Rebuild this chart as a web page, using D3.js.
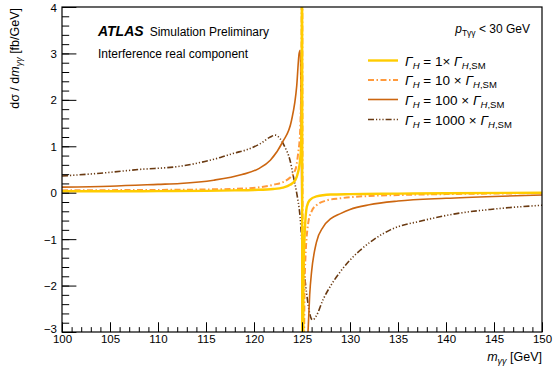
<!DOCTYPE html>
<html>
<head>
<meta charset="utf-8">
<script src="https://cdn.jsdelivr.net/npm/d3@7"></script>
<style>
  html, body { margin: 0; padding: 0; background: #fff; }
  svg { display: block; font-family: "Liberation Sans", Arial, Helvetica, sans-serif; }
</style>
</head>
<body>
<svg id="chart" width="553" height="372"></svg>
<script>
// Interference (real part) of the diphoton lineshape for several Higgs widths
const xTicks = [100, 105, 110, 115, 120, 125, 130, 135, 140, 145, 150];
const yTicks = [-3, -2, -1, 0, 1, 2, 3, 4];

// Γ_H = 1 × Γ_H,SM
const w1Mass  = [100, 105, 110, 115, 118, 120, 122, 123, 123.75, 124.3, 124.6, 124.8, 124.9, 124.97, 125.0, 125.04, 125.15, 125.3, 125.5, 125.8, 126.5, 128, 130, 135, 140, 150];
const w1Value = [0.03, 0.03, 0.035, 0.04, 0.05, 0.06, 0.08, 0.11, 0.17, 0.27, 0.45, 0.7, 1.0, 1.6, 9, -9, -1.8, -0.8, -0.3, -0.16, -0.08, -0.04, -0.03, -0.02, -0.01, 0];

// Γ_H = 10 × Γ_H,SM
const w10Mass  = [100, 105, 110, 115, 119, 122, 123.4, 124.3, 124.6, 124.8, 124.95, 125.0, 125.1, 125.3, 125.65, 126, 126.5, 127.5, 129, 132, 135, 140, 150];
const w10Value = [0.05, 0.055, 0.06, 0.07, 0.09, 0.17, 0.27, 0.49, 0.85, 1.3, 3.0, 7, -5, -1.7, -0.65, -0.4, -0.27, -0.17, -0.12, -0.07, -0.05, -0.03, -0.01];

// Γ_H = 100 × Γ_H,SM
const w100Mass  = [100, 105, 110, 112.3, 115.8, 118.75, 120.5, 121.7, 123.0, 123.9, 124.45, 124.7, 124.82, 124.9, 125.0, 125.2, 125.5, 125.65, 125.8, 126.0, 126.5, 127.2, 128, 129, 130, 132, 135, 140, 145, 150];
const w100Value = [0.12, 0.14, 0.18, 0.2, 0.27, 0.39, 0.52, 0.7, 1.1, 1.55, 2.3, 3.0, 3.07, 2.0, -1.0, -3.5, -3.4, -2.9, -2.2, -1.7, -1.07, -0.74, -0.56, -0.45, -0.36, -0.26, -0.18, -0.12, -0.08, -0.05];

// Γ_H = 1000 × Γ_H,SM
const w1000Mass  = [100, 104, 108, 112.3, 114.4, 116.5, 117.9, 119.3, 120.6, 121.7, 122.2, 122.7, 123.2, 123.75, 124.1, 124.45, 124.8, 125.1, 125.5, 125.8, 126.1, 126.5, 127.2, 128, 129, 130, 131, 132.4, 134.2, 137.6, 141.1, 144.6, 150];
const w1000Value = [0.36, 0.42, 0.5, 0.57, 0.65, 0.76, 0.85, 0.93, 1.05, 1.2, 1.24, 1.17, 0.99, 0.7, 0.35, -0.01, -0.52, -1.4, -2.2, -2.6, -2.74, -2.65, -2.3, -2.0, -1.7, -1.45, -1.25, -1.02, -0.8, -0.6, -0.45, -0.36, -0.27];

const seriesLabels = ["1\u00d7", "10 \u00d7", "100 \u00d7", "1000 \u00d7"];
const seriesColors = ["#ffcc00", "#ff9a3c", "#cc6610", "#6a3a12"];
const seriesDash   = [null, "6,2.5,1.5,2.5", null, "6,2,1.2,2,1.2,2,1.2,2"];
const seriesWidth  = [2.4, 2.0, 1.6, 1.6];

const series = [
  [w1Mass, w1Value], [w10Mass, w10Value], [w100Mass, w100Value], [w1000Mass, w1000Value]
].map(([m, v], i) => ({
  points: m.map((mm, k) => [mm, v[k]]),
  label: seriesLabels[i], color: seriesColors[i], dash: seriesDash[i], width: seriesWidth[i]
}));

const svg = d3.select("#chart");
const margin = { left: 62, right: 11, top: 7, bottom: 40 };
const W = 553, H = 372;
const x = d3.scaleLinear().domain([100, 150]).range([margin.left, W - margin.right]);
const y = d3.scaleLinear().domain([-3, 4]).range([H - margin.bottom, margin.top]);

svg.append("defs").append("clipPath").attr("id", "plot-clip")
  .append("rect")
  .attr("x", x(100)).attr("y", y(4))
  .attr("width", x(150) - x(100)).attr("height", y(-3) - y(4));

// curves
const line = d3.line().x(d => x(d[0])).y(d => y(d[1])).curve(d3.curveMonotoneX);
const curves = svg.append("g").attr("clip-path", "url(#plot-clip)");
// draw widest first so the thin ones stay visible
[3, 2, 1, 0].forEach(i => {
  const s = series[i];
  curves.append("path")
    .datum(s.points)
    .attr("d", line)
    .attr("fill", "none")
    .attr("stroke", s.color)
    .attr("stroke-width", s.width)
    .attr("stroke-dasharray", s.dash)
    .attr("stroke-linejoin", "round");
});

// axes: major and minor ticks pointing into the frame
const xMajor = 9.75, yMajor = 14.4;
const xAxis = d3.axisBottom(x).tickValues(xTicks).tickSize(-xMajor).tickPadding(3).tickFormat(d3.format("d"));
const xMinor = d3.axisBottom(x).tickValues(d3.range(100, 151, 1)).tickSize(-xMajor / 2).tickFormat("");
const yAxis = d3.axisLeft(y).tickValues(yTicks).tickSize(-yMajor).tickPadding(5).tickFormat(d3.format("d"));
const yMinor = d3.axisLeft(y).tickValues(d3.range(-3, 4.001, 0.2)).tickSize(-yMajor / 2).tickFormat("");

function styleAxis(g) {
  g.select(".domain").remove();
  g.selectAll("line").attr("stroke", "#000").attr("stroke-width", 1);
  g.selectAll("text").attr("fill", "#000").attr("font-size", 11.5)
    .attr("font-family", "'Liberation Sans', Arial, sans-serif");
}
svg.append("g").attr("transform", `translate(0,${y(-3)})`).call(xMinor).call(styleAxis);
svg.append("g").attr("transform", `translate(0,${y(-3)})`).call(xAxis).call(styleAxis);
svg.append("g").attr("transform", `translate(${x(100)},0)`).call(yMinor).call(styleAxis);
svg.append("g").attr("transform", `translate(${x(100)},0)`).call(yAxis).call(styleAxis)
  .selectAll("text")
  .attr("dy", d => d === -3 ? "0.05em" : "0.36em");

// frame
svg.append("rect")
  .attr("x", x(100)).attr("y", y(4))
  .attr("width", x(150) - x(100)).attr("height", y(-3) - y(4))
  .attr("fill", "none").attr("stroke", "#000").attr("stroke-width", 1.2);

// axis titles
const xt = svg.append("text").attr("x", x(150)).attr("y", 361)
  .attr("text-anchor", "end").attr("font-size", 12.5);
xt.append("tspan").attr("font-style", "italic").text("m");
xt.append("tspan").attr("font-style", "italic").attr("font-size", 9).attr("dy", 3).text("\u03b3\u03b3");
xt.append("tspan").attr("dy", -3).text(" [GeV]");

const yt = svg.append("text").attr("transform", "translate(19,8) rotate(-90)")
  .attr("text-anchor", "end").attr("font-size", 12.5);
yt.append("tspan").text("d\u03c3 / d");
yt.append("tspan").attr("font-style", "italic").text("m");
yt.append("tspan").attr("font-style", "italic").attr("font-size", 9).attr("dy", 3).text("\u03b3\u03b3");
yt.append("tspan").attr("dy", -3).text(" [fb/GeV]");

// labels in the frame
const lab = svg.append("text").attr("x", 98).attr("y", 36).attr("font-size", 12);
lab.append("tspan").attr("font-weight", "bold").attr("font-style", "italic").attr("font-size", 14).text("ATLAS");
lab.append("tspan").attr("dx", 6).text("Simulation Preliminary");
svg.append("text").attr("x", 98).attr("y", 58).attr("font-size", 12).text("Interference real component");

const pt = svg.append("text").attr("x", 530).attr("y", 33).attr("text-anchor", "end").attr("font-size", 12);
pt.append("tspan").attr("font-style", "italic").text("p");
pt.append("tspan").attr("font-size", 8.5).attr("dy", 3).text("T\u03b3\u03b3");
pt.append("tspan").attr("dy", -3).text(" < 30 GeV");

// legend
const legendRows = [60.5, 80, 99.5, 119.5];
const legend = svg.append("g");
series.forEach((s, i) => {
  const yy = legendRows[i];
  legend.append("line")
    .attr("x1", 368).attr("x2", 398).attr("y1", yy).attr("y2", yy)
    .attr("stroke", s.color).attr("stroke-width", s.width)
    .attr("stroke-dasharray", s.dash);
  const t = legend.append("text").attr("x", 405).attr("y", yy + 5).attr("font-size", 13.5);
  t.append("tspan").attr("font-style", "italic").text("\u0393");
  t.append("tspan").attr("font-style", "italic").attr("font-size", 9.5).attr("dy", 3).text("H");
  t.append("tspan").attr("dy", -3).text(" = " + s.label + " ");
  t.append("tspan").attr("font-style", "italic").text("\u0393");
  t.append("tspan").attr("font-size", 9.5).attr("dy", 3).attr("font-style", "italic").text("H");
  t.append("tspan").attr("font-size", 9.5).text(",SM");
});
</script>
</body>
</html>
